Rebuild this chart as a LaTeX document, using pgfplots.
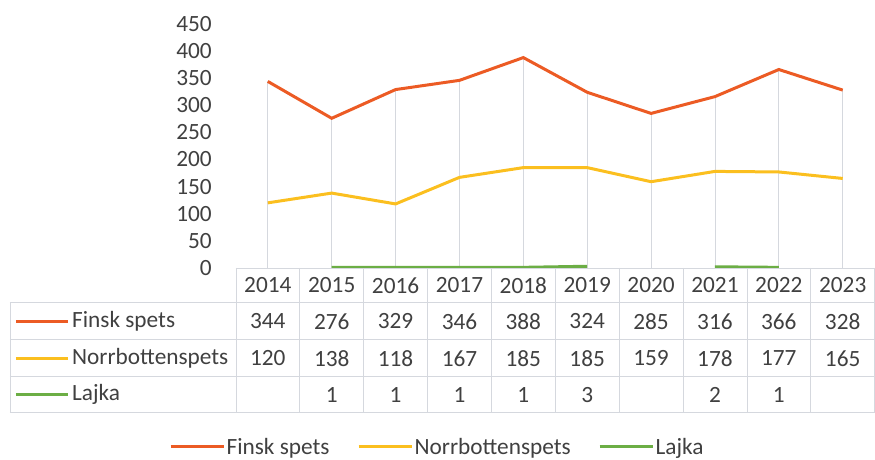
\documentclass[border=0pt]{standalone}
\usepackage{pgfplots}
\pgfplotsset{compat=1.18}
\usepackage{fontspec}
\setmainfont{Carlito}
\definecolor{cF}{HTML}{EC5B24}
\definecolor{cN}{HTML}{FBBF1F}
\definecolor{cL}{HTML}{6CAE45}
\definecolor{txt}{HTML}{404040}
\definecolor{grd}{HTML}{D5D8DE}
\newcommand{\fs}{\fontsize{23.3bp}{28bp}\selectfont}
\begin{document}
\begin{tikzpicture}[x=1bp,y=1bp,font=\fs]
\path (-236,-191) rectangle (639,268);
\begin{axis}[at={(0,0)}, anchor=south west, scale only axis,
  width=639bp, height=244bp,
  xmin=-0.5, xmax=9.5, ymin=0, ymax=450,
  ytick={0,50,...,450}, xtick=\empty,
  axis line style={draw=none}, major tick length=0pt,
  yticklabel style={anchor=east, inner sep=0pt, xshift=-24bp, text=txt, font=\fs},
  /pgf/number format/assume math mode=true,
  clip=false,
  unbounded coords=jump,
  legend image code/.code={\draw[#1, line width=3bp] (0bp,0bp) -- (53bp,0bp);},
  legend style={draw=none, fill=none, legend columns=3,
    at={(axis description cs:0.315,-0.7336)}, anchor=center,
    font=\fs, text=txt,
    nodes={inner sep=1.5bp},
    /tikz/every even column/.append style={column sep=26bp}},
]
\addplot[grd, line width=0.75bp, ycomb, no marks, forget plot] coordinates {
(0,344) (1,276) (2,329) (3,346) (4,388) (5,324) (6,285) (7,316) (8,366) (9,328)};
\addplot[cF, line width=3bp, no marks] coordinates {
(0,344) (1,276) (2,329) (3,346) (4,388) (5,324) (6,285) (7,316) (8,366) (9,328)};
\addlegendentry{Finsk spets}
\addplot[cN, line width=3bp, no marks] coordinates {
(0,120) (1,138) (2,118) (3,167) (4,185) (5,185) (6,159) (7,178) (8,177) (9,165)};
\addlegendentry{Norrbottenspets}
\addplot[cL, line width=3bp, no marks] coordinates {
(1,1) (2,1) (3,1) (4,1) (5,3) (6,nan) (7,2) (8,1)};
\addlegendentry{Lajka}
\end{axis}
% data table grid
\begin{scope}[grd, line width=0.75bp]
\draw (0,0) -- (639,0);
\foreach \yy in {-35,-72,-109,-145} \draw (-226,\yy) -- (639,\yy);
\draw (-226,-35) -- (-226,-145);
\foreach \i in {0,...,10} \draw ({\i*63.9},0) -- ({\i*63.9},-145);
\end{scope}
\begin{scope}[text=txt]
\foreach \i/\v in {0/2014,1/2015,2/2016,3/2017,4/2018,5/2019,6/2020,7/2021,8/2022,9/2023}
  \node at ({(\i+0.5)*63.9},-17.5) {\v};
\foreach \i/\v in {0/344,1/276,2/329,3/346,4/388,5/324,6/285,7/316,8/366,9/328}
  \node at ({(\i+0.5)*63.9},-53.5) {\v};
\foreach \i/\v in {0/120,1/138,2/118,3/167,4/185,5/185,6/159,7/178,8/177,9/165}
  \node at ({(\i+0.5)*63.9},-90.5) {\v};
\foreach \i/\v in {1/1,2/1,3/1,4/1,5/3,7/2,8/1}
  \node at ({(\i+0.5)*63.9},-127) {\v};
\draw[cF, line width=3bp] (-220,-53.5) -- (-168,-53.5);
\node[anchor=west, inner sep=0pt] at (-164,-53.5) {Finsk spets};
\draw[cN, line width=3bp] (-220,-90.5) -- (-168,-90.5);
\node[anchor=west, inner sep=0pt] at (-164,-90.5) {Norrbottenspets};
\draw[cL, line width=3bp] (-220,-127) -- (-168,-127);
\node[anchor=west, inner sep=0pt] at (-164,-127) {Lajka};
\end{scope}
\end{tikzpicture}
\end{document}
